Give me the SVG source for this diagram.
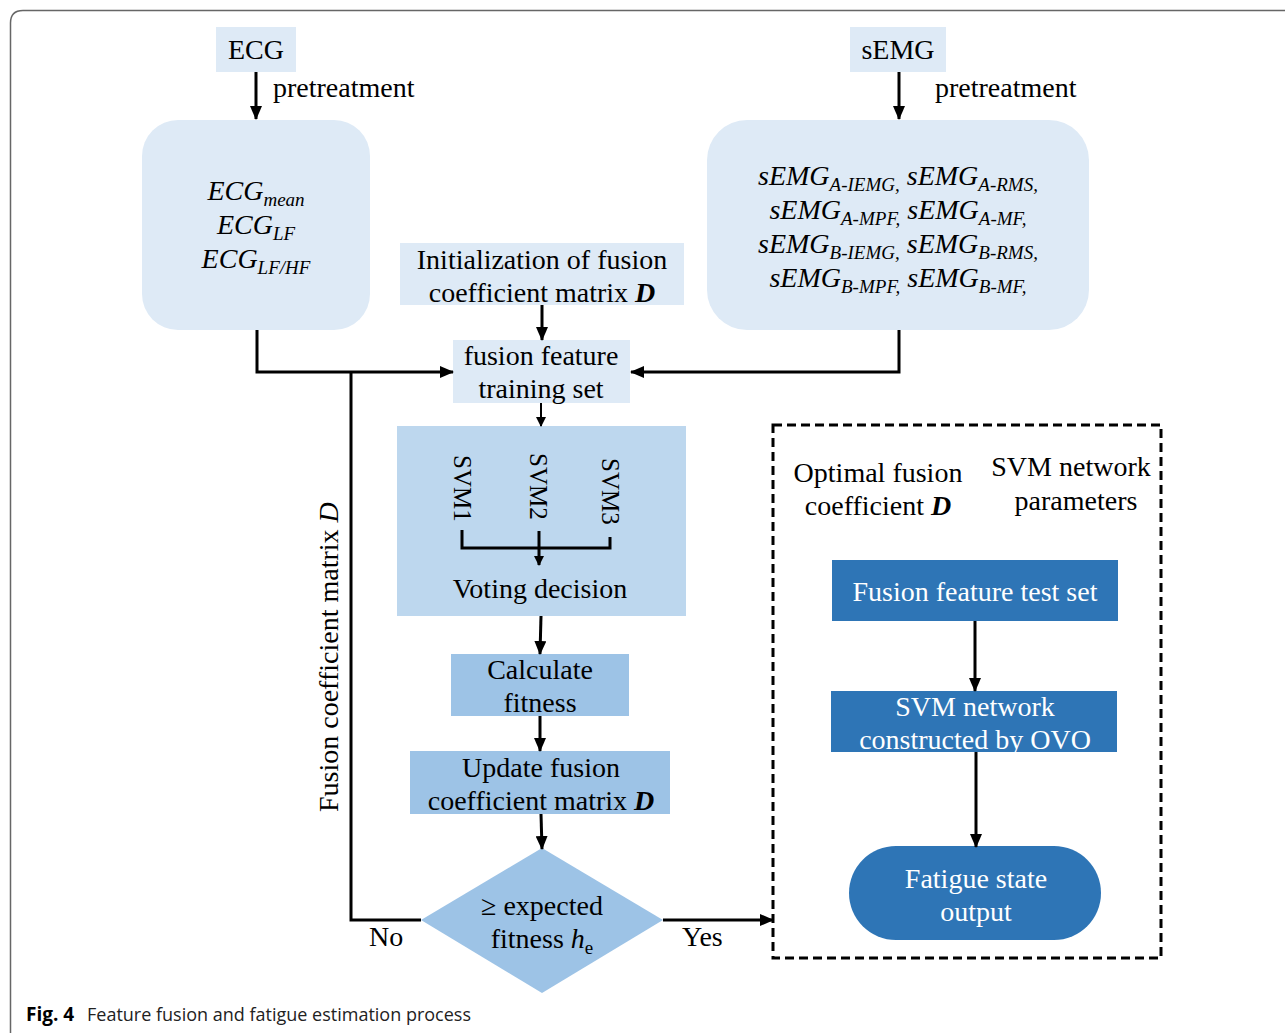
<svg xmlns="http://www.w3.org/2000/svg" width="1285" height="1033" viewBox="0 0 1285 1033">
<defs>
<marker id="ah" markerUnits="userSpaceOnUse" markerWidth="14" markerHeight="12" refX="13" refY="6" orient="auto">
<path d="M0,0 L14,6 L0,12 z" fill="#000"/>
</marker>
<marker id="ahs" markerUnits="userSpaceOnUse" markerWidth="10" markerHeight="10" refX="9" refY="5" orient="auto">
<path d="M0,0 L10,5 L0,10 z" fill="#000"/>
</marker>
<style>
.t{font-family:"Liberation Serif","Times New Roman",serif;font-size:28px;fill:#000}
.svm{font-size:25px}
.w{fill:#fff}
.it{font-family:"Liberation Serif","Times New Roman",serif;font-style:italic;font-size:28px;fill:#000}
.sub{font-size:19px}
.pale{fill:#deeaf6}
.mid{fill:#bdd7ee}
.lt{fill:#9dc3e6}
.dk{fill:#2e75b6}
.ln{fill:none;stroke:#000;stroke-width:3}
.thin{fill:none;stroke:#000;stroke-width:2}
.cap{font-family:"Open Sans","Noto Sans","Liberation Sans",sans-serif;font-size:18px;fill:#222}
</style>
</defs>
<rect width="1285" height="1033" fill="#fff"/>
<path d="M10.5,1045 V23 Q10.5,10.5 23,10.5 H1300" fill="none" stroke="#666" stroke-width="1.5"/>

<g id="ecg-label">
<rect class="pale" x="216" y="27" width="80" height="45"/>
<text class="t" x="256" y="59" text-anchor="middle">ECG</text>
</g>
<text class="t" x="273" y="97">pretreatment</text>

<g id="semg-label">
<rect class="pale" x="850" y="27" width="96" height="45"/>
<text class="t" x="898" y="59" text-anchor="middle">sEMG</text>
</g>
<text class="t" x="935" y="97">pretreatment</text>

<g id="ecg-features">
<rect class="pale" x="142" y="120" width="228" height="210" rx="36"/>
<text class="it" x="256" y="200" text-anchor="middle">ECG<tspan class="sub" dy="6">mean</tspan></text>
<text class="it" x="256" y="234" text-anchor="middle">ECG<tspan class="sub" dy="6">LF</tspan></text>
<text class="it" x="256" y="268" text-anchor="middle">ECG<tspan class="sub" dy="6">LF/HF</tspan></text>
</g>

<g id="semg-features">
<rect class="pale" x="707" y="120" width="382" height="210" rx="40"/>
<text class="it" x="898" y="185" text-anchor="middle">sEMG<tspan class="sub" dy="6">A-IEMG,</tspan><tspan dy="-6"> sEMG</tspan><tspan class="sub" dy="6">A-RMS,</tspan></text>
<text class="it" x="898" y="219" text-anchor="middle">sEMG<tspan class="sub" dy="6">A-MPF,</tspan><tspan dy="-6"> sEMG</tspan><tspan class="sub" dy="6">A-MF,</tspan></text>
<text class="it" x="898" y="253" text-anchor="middle">sEMG<tspan class="sub" dy="6">B-IEMG,</tspan><tspan dy="-6"> sEMG</tspan><tspan class="sub" dy="6">B-RMS,</tspan></text>
<text class="it" x="898" y="287" text-anchor="middle">sEMG<tspan class="sub" dy="6">B-MPF,</tspan><tspan dy="-6"> sEMG</tspan><tspan class="sub" dy="6">B-MF,</tspan></text>
</g>

<g id="init">
<rect class="pale" x="400" y="243" width="284" height="62"/>
<text class="t" x="542" y="269" text-anchor="middle">Initialization of fusion</text>
<text class="t" x="542" y="302" text-anchor="middle">coefficient matrix <tspan font-weight="bold" font-style="italic">D</tspan></text>
</g>

<g id="training">
<rect class="pale" x="453" y="340" width="177" height="63"/>
<text class="t" x="541" y="365" text-anchor="middle">fusion feature</text>
<text class="t" x="541" y="398" text-anchor="middle">training set</text>
</g>

<g id="svm">
<rect class="mid" x="397" y="426" width="289" height="190"/>
<text class="t svm" transform="translate(454,455) rotate(90)">SVM1</text>
<text class="t svm" transform="translate(530,453) rotate(90)">SVM2</text>
<text class="t svm" transform="translate(602,458) rotate(90)">SVM3</text>
<text class="t" x="540" y="598" text-anchor="middle">Voting decision</text>
</g>

<g id="calc">
<rect class="lt" x="451" y="654" width="178" height="62"/>
<text class="t" x="540" y="679" text-anchor="middle">Calculate</text>
<text class="t" x="540" y="712" text-anchor="middle">fitness</text>
</g>

<g id="update">
<rect class="lt" x="410" y="751" width="260" height="63"/>
<text class="t" x="541" y="777" text-anchor="middle">Update fusion</text>
<text class="t" x="541" y="810" text-anchor="middle">coefficient matrix <tspan font-weight="bold" font-style="italic">D</tspan></text>
</g>

<g id="decision">
<polygon class="lt" points="542,848 663,920 542,993 421,920"/>
<text class="t" x="542" y="915" text-anchor="middle">≥ expected</text>
<text class="t" x="542" y="948" text-anchor="middle">fitness <tspan font-style="italic">h</tspan><tspan font-size="19" dy="6">e</tspan></text>
</g>

<text class="t" x="369" y="946">No</text>
<text class="t" x="682" y="946">Yes</text>
<text class="t" transform="translate(338,812) rotate(-90)">Fusion coefficient matrix <tspan font-style="italic">D</tspan></text>

<g id="result-group">
<rect x="773" y="425" width="388" height="533" fill="none" stroke="#000" stroke-width="3" stroke-dasharray="9,5"/>
<text class="t" x="878" y="482" text-anchor="middle">Optimal fusion</text>
<text class="t" x="878" y="515" text-anchor="middle">coefficient <tspan font-weight="bold" font-style="italic">D</tspan></text>
<text class="t" x="1071" y="476" text-anchor="middle">SVM network</text>
<text class="t" x="1076" y="510" text-anchor="middle">parameters</text>
</g>

<g id="test-set">
<rect class="dk" x="832" y="560" width="286" height="61"/>
<text class="t w" x="975" y="601" text-anchor="middle">Fusion feature test set</text>
</g>

<g id="svm-network">
<rect class="dk" x="831" y="691" width="286" height="61"/>
<text class="t w" x="975" y="716" text-anchor="middle">SVM network</text>
<text class="t w" x="975" y="749" text-anchor="middle">constructed by OVO</text>
</g>

<g id="fatigue-output">
<rect class="dk" x="849" y="846" width="252" height="94" rx="47"/>
<text class="t w" x="976" y="888" text-anchor="middle">Fatigue state</text>
<text class="t w" x="976" y="921" text-anchor="middle">output</text>
</g>

<g id="connectors">
<line class="ln" x1="256" y1="72" x2="256" y2="119" marker-end="url(#ah)"/>
<line class="ln" x1="899" y1="72" x2="899" y2="119" marker-end="url(#ah)"/>
<line class="ln" x1="542" y1="305" x2="542" y2="340" marker-end="url(#ah)"/>
<polyline class="ln" points="257,330 257,372 453,372" marker-end="url(#ah)"/>
<polyline class="ln" points="899,330 899,372 631,372" marker-end="url(#ah)"/>
<polyline class="ln" points="421,920 351,920 351,372"/>
<line class="thin" x1="541" y1="403" x2="541" y2="426" marker-end="url(#ahs)"/>
<polyline class="ln" points="462,530 462,548 610,548 610,537"/>
<line class="ln" x1="539" y1="531" x2="539" y2="565" marker-end="url(#ahs)"/>
<line class="ln" x1="541" y1="616" x2="540" y2="654" marker-end="url(#ah)"/>
<line class="ln" x1="540" y1="716" x2="540" y2="751" marker-end="url(#ah)"/>
<line class="ln" x1="541" y1="814" x2="542" y2="849" marker-end="url(#ah)"/>
<line class="ln" x1="663" y1="920" x2="773" y2="920" marker-end="url(#ah)"/>
<line class="ln" x1="975" y1="621" x2="975" y2="691" marker-end="url(#ah)"/>
<line class="ln" x1="976" y1="752" x2="976" y2="847" marker-end="url(#ah)"/>
</g>

<text class="cap" x="26" y="1021"><tspan font-weight="bold" fill="#000" font-size="19">Fig. 4</tspan><tspan x="87">Feature fusion and fatigue estimation process</tspan></text>
</svg>
